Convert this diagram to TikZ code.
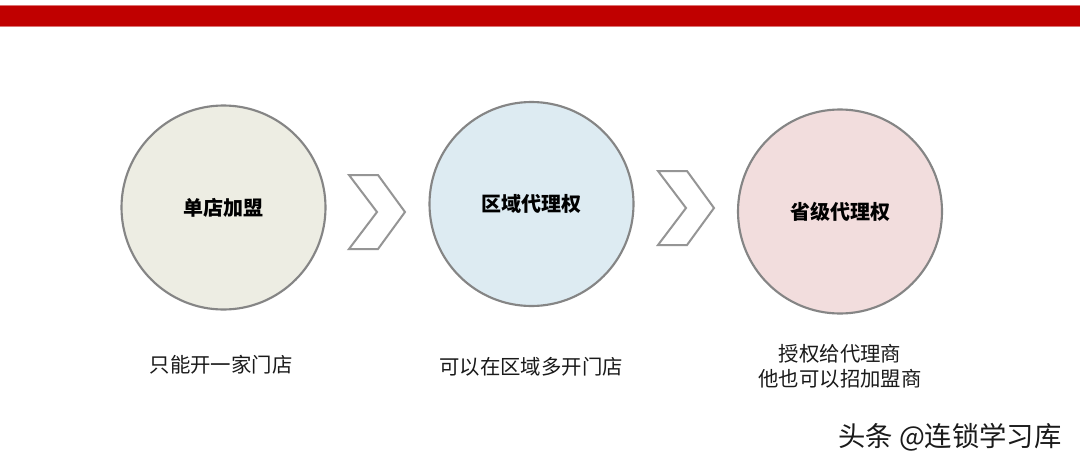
\documentclass[tikz,border=0pt]{standalone}
\usepackage{fontspec}
\newfontfamily\cjk{Noto Sans CJK SC}
\usetikzlibrary{positioning}
\definecolor{barred}{HTML}{C00000}
\definecolor{cfa}{HTML}{EDEDE3}
\definecolor{cfb}{HTML}{DDEBF2}
\definecolor{cfc}{HTML}{F2DDDD}
\definecolor{edge}{HTML}{858585}
\definecolor{chevgray}{HTML}{959595}
\definecolor{txt}{HTML}{1A1A1A}
\tikzset{
  circ/.style={circle, draw=edge, line width=1.6pt, minimum size=153pt, inner sep=0pt,
    font=\cjk\bfseries\fontsize{15}{18}\selectfont, text=black},
  lbl/.style={font=\cjk\fontsize{15.3}{18.75}\selectfont, text=txt, align=center, inner sep=0pt},
  chevline/.style={draw=chevgray, fill=white, line width=1.5pt, line join=miter},
  chev/.pic={\path[chevline] (-28,-37) -- (1,-37) -- (28,0) -- (1,37) -- (-28,37) -- (0,0) -- cycle;}
}
\begin{document}
\begin{tikzpicture}[x=0.75pt,y=-0.75pt]
\useasboundingbox[fill=white] (0,0) rectangle (1080,468);
% top bar
\fill[barred!55!white] (0,4.5) rectangle (1080,26.5);
\fill[barred] (0,5.5) rectangle (1080,25.5);
% circles
\node[circ, fill=cfa] (c1) at (223.5,207.5) {单店加盟};
\node[circ, fill=cfb] (c2) at (531.5,204) {区域代理权};
\node[circ, fill=cfc] (c3) at (840,211.5) {省级代理权};
% chevrons
\pic at (377,212) {chev};
\pic at (686,208) {chev};
% labels
\node[lbl] (l1) at (221,365) {只能开一家门店};
\node[lbl] (l2) at (531,367) {可以在区域多开门店};
\node[lbl] (l3) at (840,366.5) {授权给代理商\\他也可以招加盟商};
% watermark
\node[font=\cjk\fontsize{20.5}{24}\selectfont, text=txt, anchor=west, inner sep=0pt] (wm) at (838,437) {头条 @连锁学习库};
\end{tikzpicture}
\end{document}
